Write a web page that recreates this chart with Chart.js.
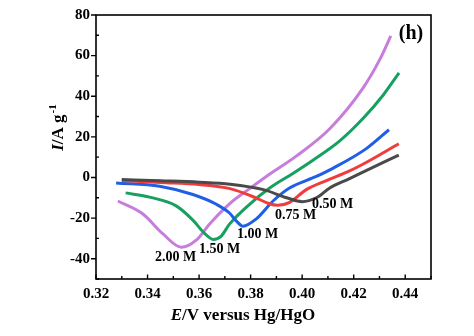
<!DOCTYPE html>
<html>
<head>
<meta charset="utf-8">
<script src="https://cdn.jsdelivr.net/npm/chart.js@4/dist/chart.umd.min.js"></script>
<style>
  html,body{margin:0;padding:0;background:#fff;}
  #wrap{width:474px;height:336px;}
</style>
</head>
<body>
<div id="wrap"><canvas id="cv" width="474" height="336"></canvas></div>
<script>
// potentials (V vs Hg/HgO) and currents (A/g)
const e050=[0.330,0.345,0.360,0.372,0.385,0.394,0.400,0.4055,0.4107,0.418,0.425,0.4375];
const i050=[-1.0,-1.6,-2.3,-3.3,-6,-10,-11.9,-10,-5.2,-0.8,3.5,11];

const e075=[0.330,0.345,0.360,0.372,0.382,0.387,0.3905,0.395,0.4016,0.4094,0.418,0.425,0.4375];
const i075=[-1.5,-2.5,-3.5,-5.5,-10,-12.8,-13.7,-12.4,-6,-1.5,3,7.5,16.6];

const e100=[0.3278,0.3447,0.3576,0.3667,0.3718,0.3745,0.377,0.3822,0.3887,0.3951,0.4055,0.4119,0.4249,0.4337];
const i100=[-2.7,-4.3,-8.4,-13.2,-17.5,-21.5,-24,-20.4,-11.6,-5.2,0.5,4.5,14.2,23.5];

const e150=[0.3315,0.3408,0.3511,0.3576,0.3621,0.3655,0.3685,0.3718,0.3796,0.3874,0.3964,0.4042,0.4146,0.4236,0.4314,0.4376];
const i150=[-7.6,-9.7,-14,-21,-27.5,-30.5,-29,-23,-13.2,-5.2,2,8.5,18,29,40.5,51.5];

const e200=[0.3285,0.3382,0.3459,0.3531,0.3589,0.3641,0.3718,0.3796,0.3861,0.3977,0.4107,0.4236,0.4301,0.4344];
const i200=[-11.6,-18,-27.7,-34.4,-30.9,-22.9,-13,-5.5,0.5,10.5,24,44,58,69.7];

const concLabels=["0.50 M","0.75 M","1.00 M","1.50 M","2.00 M"];
const labelE=[0.4118,0.3975,0.3827,0.368,0.3509];
const labelI=[-13.5,-18.8,-28,-35.3,-39.6];
const colors=["#4a4a4a","#f03c3c","#1e5fe6","#17a060","#c77ddc"];

const FONT="'Liberation Serif','Times New Roman',serif";

function pts(xs,ys){
    return xs.map((x,i)=>({x:x,y:ys[i]}));
}

const series=[[e050,i050],[e075,i075],[e100,i100],[e150,i150],[e200,i200]];

const datasets=series.map((s,k)=>({
    label:concLabels[k],
    data:pts(s[0],s[1]),
    borderColor:colors[k],
    borderWidth:3,
    pointRadius:0,
    showLine:true,
    fill:false,
    cubicInterpolationMode:"monotone"
}));

// frame, ticks, titles and text labels
const decor={
    id:"decor",
    afterDraw(chart){
        const ctx=chart.ctx;
        const a=chart.chartArea;
        const xs=chart.scales.x, ys=chart.scales.y;
        ctx.save();
        ctx.strokeStyle="#000";
        ctx.lineWidth=1.6;
        ctx.strokeRect(a.left,a.top,a.right-a.left,a.bottom-a.top);

        ctx.lineWidth=1.4;
        ctx.beginPath();
        xs.ticks.forEach((t,i)=>{
            const p=xs.getPixelForTick(i);
            const major=Math.round(t.value*100)%2===0;
            ctx.moveTo(p,a.bottom);
            ctx.lineTo(p,a.bottom-(major?4.5:3));
        });
        ys.ticks.forEach((t,i)=>{
            const p=ys.getPixelForTick(i);
            const major=Math.round(t.value)%20===0;
            if(major){
                ctx.moveTo(a.left,p);
                ctx.lineTo(a.left-5,p);
            }else{
                ctx.moveTo(a.left,p);
                ctx.lineTo(a.left+3,p);
            }
        });
        ctx.stroke();

        // curve labels
        ctx.fillStyle="#000";
        ctx.font="bold 14px "+FONT;
        ctx.textAlign="center";
        ctx.textBaseline="middle";
        concLabels.forEach((txt,i)=>{
            ctx.fillText(txt,xs.getPixelForValue(labelE[i]),ys.getPixelForValue(labelI[i]));
        });

        // panel letter
        ctx.font="bold 20px "+FONT;
        ctx.fillText("(h)",a.right-20,a.top+19);

        // x title
        ctx.textAlign="left";
        ctx.textBaseline="alphabetic";
        let parts=[["E","bold italic 17px "],["/V versus Hg/HgO","bold 17px "]];
        let w=0;
        parts.forEach(p=>{ctx.font=p[1]+FONT; w+=ctx.measureText(p[0]).width;});
        let x0=243-w/2;
        parts.forEach(p=>{ctx.font=p[1]+FONT; ctx.fillText(p[0],x0,320); x0+=ctx.measureText(p[0]).width;});

        // y title (rotated)
        ctx.translate(63,128);
        ctx.rotate(-Math.PI/2);
        parts=[["I","bold italic 17px "],["/A g","bold 17px "]];
        w=0;
        parts.forEach(p=>{ctx.font=p[1]+FONT; w+=ctx.measureText(p[0]).width;});
        ctx.font="bold 11px "+FONT;
        const sw=ctx.measureText("-1").width;
        x0=-(w+sw)/2;
        parts.forEach(p=>{ctx.font=p[1]+FONT; ctx.fillText(p[0],x0,0); x0+=ctx.measureText(p[0]).width;});
        ctx.font="bold 11px "+FONT;
        ctx.fillText("-1",x0+1,-7);
        ctx.restore();
    }
};

new Chart(document.getElementById("cv"),{
    type:"scatter",
    data:{datasets},
    options:{
        responsive:false,
        animation:false,
        layout:{padding:{top:10,right:43,left:0,bottom:0}},
        plugins:{legend:{display:false},tooltip:{enabled:false}},
        scales:{
            x:{
                type:"linear",
                min:0.32,max:0.45,
                grid:{display:false,drawTicks:false},
                border:{display:false},
                afterFit(s){s.height=57;},
                ticks:{
                    stepSize:0.01,
                    padding:6,
                    color:"#000",
                    maxRotation:0,
                    autoSkip:false,
                    font:{family:FONT,size:15,weight:"bold"},
                    callback:v=>Math.round(v*100)%2===0?v.toFixed(2):""
                }
            },
            y:{
                min:-50,max:80,
                grid:{display:false,drawTicks:false},
                border:{display:false},
                afterFit(s){s.width=96;},
                ticks:{
                    stepSize:10,
                    padding:6,
                    color:"#000",
                    autoSkip:false,
                    font:{family:FONT,size:15,weight:"bold"},
                    callback:v=>Math.round(v)%20===0?String(v):""
                }
            }
        }
    },
    plugins:[decor]
});
</script>
</body>
</html>
